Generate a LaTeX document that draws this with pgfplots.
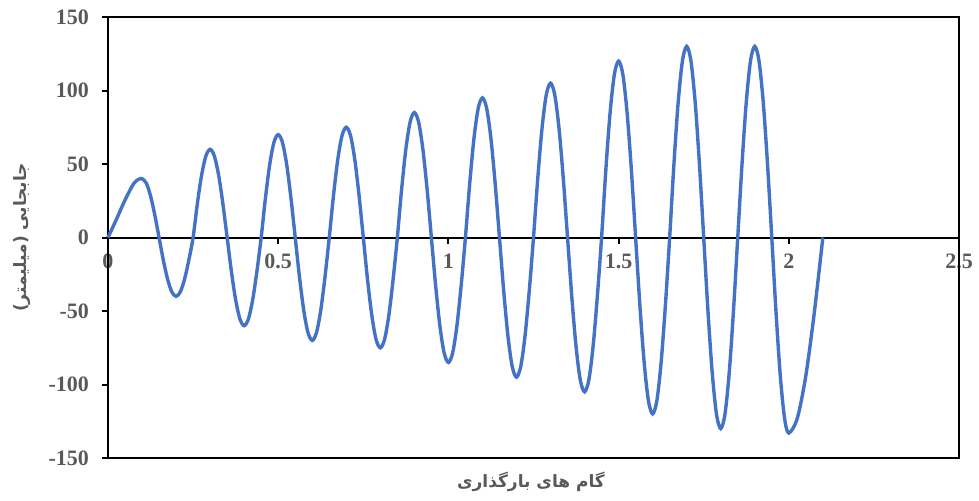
\documentclass[border=0pt]{standalone}
\usepackage{pgfplots}
\pgfplotsset{compat=1.18}
\usepackage{fontspec}
\setmainfont{Liberation Serif}
\newfontfamily\arabicfont[Script=Arabic]{DejaVu Sans}
\TeXXeTstate=1
\definecolor{lineblue}{HTML}{4472C4}
\definecolor{tickgray}{HTML}{595959}

\pgfplotstableread{
x y
0 0
0.025 12.5
0.05 25.5
0.075 36.5
0.09 39.6
0.1 40
0.1125 37.0
0.125 28.3
0.1375 15.3
0.15 0
0.1625 -15.3
0.175 -28.3
0.1875 -37.0
0.2 -40
0.2125 -37.0
0.225 -28.3
0.2375 -15.3
0.25 0
0.2625 23.0
0.275 42.4
0.2875 55.4
0.3 60
0.3125 55.4
0.325 42.4
0.3375 23.0
0.35 0
0.3625 -23.0
0.375 -42.4
0.3875 -55.4
0.4 -60
0.4125 -55.4
0.425 -42.4
0.4375 -23.0
0.45 0
0.4625 26.8
0.475 49.5
0.4875 64.7
0.5 70
0.5125 64.7
0.525 49.5
0.5375 26.8
0.55 0
0.5625 -26.8
0.575 -49.5
0.5875 -64.7
0.6 -70
0.6125 -64.7
0.625 -49.5
0.6375 -26.8
0.65 0
0.6625 28.7
0.675 53.0
0.6875 69.3
0.7 75
0.7125 69.3
0.725 53.0
0.7375 28.7
0.75 0
0.7625 -28.7
0.775 -53.0
0.7875 -69.3
0.8 -75
0.8125 -69.3
0.825 -53.0
0.8375 -28.7
0.85 0
0.8625 32.6
0.875 60.1
0.8875 78.5
0.9 85
0.9125 78.5
0.925 60.1
0.9375 32.6
0.95 0
0.9625 -32.6
0.975 -60.1
0.9875 -78.5
1.0 -85
1.0125 -78.5
1.025 -60.1
1.0375 -32.6
1.05 0
1.0625 36.4
1.075 67.2
1.0875 87.8
1.1 95
1.1125 87.8
1.125 67.2
1.1375 36.4
1.15 0
1.1625 -36.4
1.175 -67.2
1.1875 -87.8
1.2 -95
1.2125 -87.8
1.225 -67.2
1.2375 -36.4
1.25 0
1.2625 40.2
1.275 74.2
1.2875 97.0
1.3 105
1.3125 97.0
1.325 74.2
1.3375 40.2
1.35 0
1.3625 -40.2
1.375 -74.2
1.3875 -97.0
1.4 -105
1.4125 -97.0
1.425 -74.2
1.4375 -40.2
1.45 0
1.4625 46.0
1.475 84.8
1.4875 110.9
1.5 120
1.5125 110.9
1.525 84.8
1.5375 46.0
1.55 0
1.5625 -46.0
1.575 -84.8
1.5875 -110.9
1.6 -120
1.6125 -110.9
1.625 -84.8
1.6375 -46.0
1.65 0
1.6625 49.8
1.675 91.9
1.6875 120.1
1.7 130
1.7125 120.1
1.725 91.9
1.7375 49.8
1.75 0
1.7625 -49.8
1.775 -91.9
1.7875 -120.1
1.8 -130
1.8125 -120.1
1.825 -91.9
1.8375 -49.8
1.85 0
1.8625 49.8
1.875 91.9
1.8875 120.1
1.9 130
1.9125 120.1
1.925 91.9
1.9375 49.8
1.95 0
1.9625 -50.9
1.975 -94.0
1.9875 -122.9
2.0 -133
2.025 -122.9
2.05 -94.0
2.075 -50.9
2.1 0
}\disp

\begin{document}
\begin{tikzpicture}
\begin{axis}[
  at={(0,0)}, anchor=south west,
  scale only axis, width=425.5pt, height=220.5pt,
  xmin=0, xmax=2.5, ymin=-150, ymax=150,
  axis x line*=middle, axis y line*=left,
  hide obscured x ticks=false,
  axis line style={line width=1pt, black},
  xtick={0,0.5,1,1.5,2,2.5},
  ytick={-150,-100,-50,0,50,100,150},
  major tick length=3pt,
  ytick align=outside,
  xtick align=center,
  tick style={line width=1pt, black},
  xtick style={yshift=-1.5pt},
  /pgf/number format/assume math mode=true,
  ticklabel style={font=\fontsize{11}{13}\selectfont\bfseries, text=tickgray},
  xticklabel style={yshift=-3pt},
  yticklabel style={xshift=-3pt},
  xlabel={\arabicfont\bfseries\beginR گام های بارگذاری\endR},
  ylabel={\arabicfont\bfseries\beginR جابجایی (میلیمتر)\endR},
  every axis x label/.style={at={(axis description cs:0.497,-0.054)}, anchor=center, font=\fontsize{8.5}{10}\selectfont, text=tickgray},
  every axis y label/.style={at={(axis description cs:-0.101,0.5)}, rotate=90, anchor=center, font=\fontsize{8.5}{10}\selectfont, text=tickgray},
  clip=false,
]
\draw[line width=1pt, black] (rel axis cs:0,0) rectangle (rel axis cs:1,1);
\pgfplotsinvokeforeach{0.5,1,1.5,2}{
  \draw[line width=1pt, black] (axis cs:#1,0) -- ([yshift=-3pt]axis cs:#1,0);
}
\addplot[lineblue, line width=1.7pt, smooth, no markers] table[x=x, y=y] {\disp};
\end{axis}
\pgfresetboundingbox
\path (-54pt,-21pt) rectangle (435.5pt,229pt);
\end{tikzpicture}
\end{document}
